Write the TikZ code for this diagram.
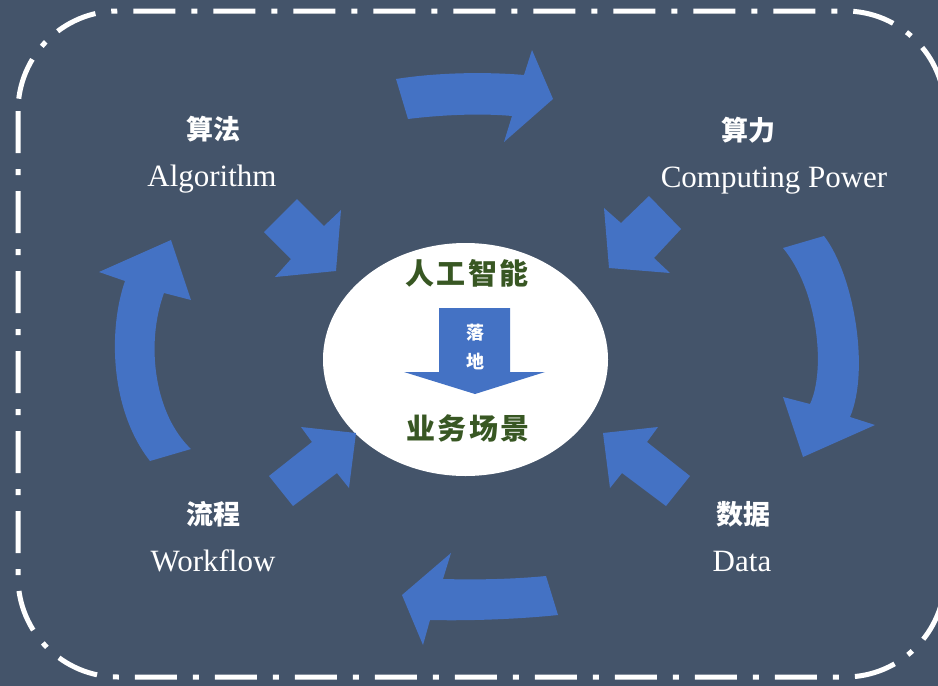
\documentclass[tikz,border=0pt]{standalone}
\usepackage{fontspec}
\usetikzlibrary{shapes.geometric}
\setmainfont{Liberation Serif}
\newfontfamily\cjk{Noto Sans CJK SC}
\newfontfamily\cjkspaced[LetterSpace=8]{Noto Sans CJK SC}
\definecolor{bgc}{HTML}{44546A}
\definecolor{arrowblue}{HTML}{4472C4}
\definecolor{darkgreen}{HTML}{385723}
\tikzset{
  blockarrow/.style={fill=arrowblue, draw=none},
  cnlabel/.style={text=white, inner sep=0pt, font=\cjk\bfseries\fontsize{27}{27}\selectfont},
  enlabel/.style={text=white, inner sep=0pt, anchor=base, font=\fontsize{31}{31}\selectfont},
  greentext/.style={text=darkgreen, inner sep=0pt, font=\cjkspaced\bfseries\fontsize{29}{29}\selectfont},
  smalltext/.style={text=white, inner sep=0pt, font=\cjk\bfseries\fontsize{18}{18}\selectfont}
}
\begin{document}
\begin{tikzpicture}[x=1pt,y=-1pt]
\useasboundingbox (0,0) rectangle (938,686);
\fill[bgc] (0,0) rectangle (938,686);
% dash-dot border
\draw[white, line width=5pt, dash pattern=on 42pt off 16pt on 6pt off 16pt, rounded corners=100pt]
  (18,11) rectangle (945,677);
% central ellipse
\node[ellipse, fill=white, minimum width=285pt, minimum height=233pt, inner sep=0pt] (core) at (465.5,359.5) {};
% cycle arrows
\fill[blockarrow] (396,79) .. controls (440,72) and (490,72) .. (524,75) -- (532,50) -- (553,99) -- (504,142) -- (512,116)
  .. controls (480,113) and (440,115) .. (408,119) -- cycle;
\fill[blockarrow] (783,248) -- (824,236) .. controls (854,275) and (870,370) .. (850,417) -- (875,425) -- (803,457) -- (783,397) -- (810,404)
  .. controls (826,370) and (818,290) .. (783,248) -- cycle;
\fill[blockarrow] (546,576) -- (558,615) .. controls (520,619) and (470,621) .. (430,620) -- (423,645) -- (402,595) -- (451,553) -- (443,579)
  .. controls (480,580) and (515,579) .. (546,576) -- cycle;
\fill[blockarrow] (150,461) -- (191,449) .. controls (155,415) and (145,345) .. (164,293) -- (191,300) -- (171,240) -- (99,272) -- (125,281)
  .. controls (108,330) and (110,410) .. (150,461) -- cycle;
% inward arrows
\fill[blockarrow] (297,199) -- (324,226) -- (341,210) -- (336,271) -- (275,277) -- (291,259) -- (264,232) -- cycle;
\fill[blockarrow] (649,196) -- (681,229) -- (654,258) -- (670,273) -- (609,268) -- (604,208) -- (621,223) -- cycle;
\fill[blockarrow] (269,476) -- (312,442) -- (301,427) -- (356,433) -- (349,488) -- (337,473) -- (293,506) -- cycle;
\fill[blockarrow] (690,476) -- (647,442) -- (658,427) -- (603,433) -- (610,488) -- (622,473) -- (666,506) -- cycle;
% down arrow in centre
\fill[blockarrow] (439,308) -- (510,308) -- (510,372) -- (545,372) -- (475,394) -- (404,372) -- (439,372) -- cycle;
\node[smalltext] (luo) at (475,333) {落};
\node[smalltext] (di) at (475,361) {地};
% centre texts
\node[greentext] (ai) at (467,273) {人工智能};
\node[greentext] (biz) at (468,428) {业务场景};
% corner labels
\node[cnlabel] (algcn) at (213,129) {算法};
\node[enlabel] (algen) at (212,186) {Algorithm};
\node[cnlabel] (cpcn) at (748,130) {算力};
\node[enlabel] (cpen) at (774,187) {Computing Power};
\node[cnlabel] (wfcn) at (213,514) {流程};
\node[enlabel] (wfen) at (213,571) {Workflow};
\node[cnlabel] (dtcn) at (743,514) {数据};
\node[enlabel] (dten) at (742,571) {Data};
\end{tikzpicture}
\end{document}
